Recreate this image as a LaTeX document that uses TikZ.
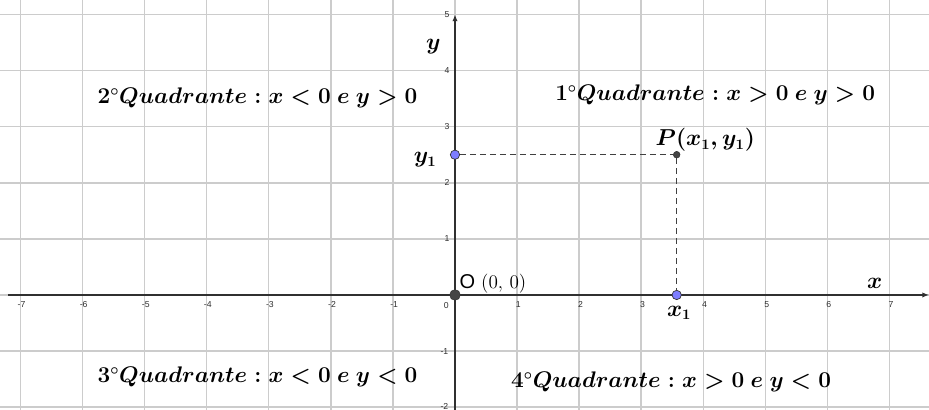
\documentclass[tikz,border=0pt]{standalone}
\usepackage{amsmath}
\usepackage{graphicx}
\usepackage{fontspec}
\newfontfamily\ticksans{Liberation Sans}
\usetikzlibrary{arrows.meta}
\definecolor{gridc}{HTML}{CCCCCC}
\definecolor{axisc}{HTML}{303030}
\definecolor{dashc}{HTML}{404040}
\definecolor{ptblue}{HTML}{7D7DFF}
\newcommand{\qtext}[1]{\scalebox{0.98}{#1}}
\begin{document}
\begin{tikzpicture}[x=46.575pt,y=42.075pt,
  gridline/.style={draw=gridc,line width=1.2pt},
  axisline/.style={draw=axisc,line width=1.1pt},
  guide/.style={draw=dashc,line width=1.05pt,dash pattern=on 4.5pt off 3pt},
  ticklab/.style={font=\ticksans\fontsize{6.5}{7}\selectfont,text=axisc,inner sep=0pt},
  qlab/.style={font=\fontsize{16}{18}\selectfont\boldmath,inner sep=0pt},
  ptlab/.style={font=\fontsize{16}{18}\selectfont\boldmath,inner sep=0pt},
  bluept/.style={circle,fill=ptblue,draw=axisc,line width=0.5pt,minimum size=7pt,inner sep=0pt},
  darkpt/.style={circle,fill=axisc!90,draw=axisc,minimum size=5pt,inner sep=0pt},
  originpt/.style={circle,fill=axisc!90,draw=axisc,minimum size=8pt,inner sep=0pt}]
\useasboundingbox[fill=white] (-7.327,-2.050) rectangle (7.633,5.258);
% grid
\foreach \i in {-7,...,7} \draw[gridline] (\i,-2.1) -- (\i,5.3);
\foreach \j in {-2,...,5} \draw[gridline] (-7.4,\j) -- (7.7,\j);
% axes
\coordinate (xl) at (-7.2,0);
\coordinate (xr) at (7.633,0);
\coordinate (yb) at (0,-2.1);
\coordinate (yt) at (0,5.0);
\draw[axisline,-{Latex[length=5pt,width=4pt]}] (xl) -- (xr);
\draw[axisline,-{Latex[length=5pt,width=4pt]}] (yb) -- (yt);
% tick labels
\foreach \i in {-7,...,-1} \node[ticklab] (tx\i) at (\i+0.02,-0.17) {-\the\numexpr-\i\relax};
\foreach \i in {1,...,7} \node[ticklab] (tx\i) at (\i+0.02,-0.17) {\i};
\node[ticklab] (t0) at (-0.14,-0.18) {0};
\foreach \j in {1,...,5} \node[ticklab] (ty\j) at (-0.13,\j) {\j};
\node[ticklab] (ty-1) at (-0.17,-1) {-1};
\node[ticklab] (ty-2) at (-0.17,-1.985) {-2};
% points
\node[originpt] (O) at (0,0) {};
\node[darkpt] (P) at (3.57,2.5) {};
\node[bluept] (Y1) at (0,2.5) {};
\node[bluept] (X1) at (3.57,0) {};
\draw[guide] (Y1) -- (P);
\draw[guide] (P) -- (X1);
% labels
\node[ptlab] (ly1) at (-0.48,2.41) {$y_1$};
\node[ptlab] (lP) at (4.03,2.76) {$P(x_1,y_1)$};
\node[ptlab] (lx1) at (3.61,-0.32) {$x_1$};
\node[ptlab] (lx) at (6.76,0.2) {$x$};
\node[ptlab] (ly) at (-0.35,4.42) {$y$};
\node[anchor=west,inner sep=0pt,font=\fontsize{15}{17}\selectfont] (lO) at (0.07,0.2) {{\ticksans O} $(0,\,0)$};
% quadrant labels
\node[qlab] (q2) at (-3.18,3.51) {\qtext{$2^{\circ}Quadrante: x<0\ e\ y>0$}};
\node[qlab] (q1) at (4.19,3.57) {\qtext{$1^{\circ}Quadrante: x>0\ e\ y>0$}};
\node[qlab] (q3) at (-3.18,-1.46) {\qtext{$3^{\circ}Quadrante: x<0\ e\ y<0$}};
\node[qlab] (q4) at (3.48,-1.55) {\qtext{$4^{\circ}Quadrante: x>0\ e\ y<0$}};
\end{tikzpicture}
\end{document}
